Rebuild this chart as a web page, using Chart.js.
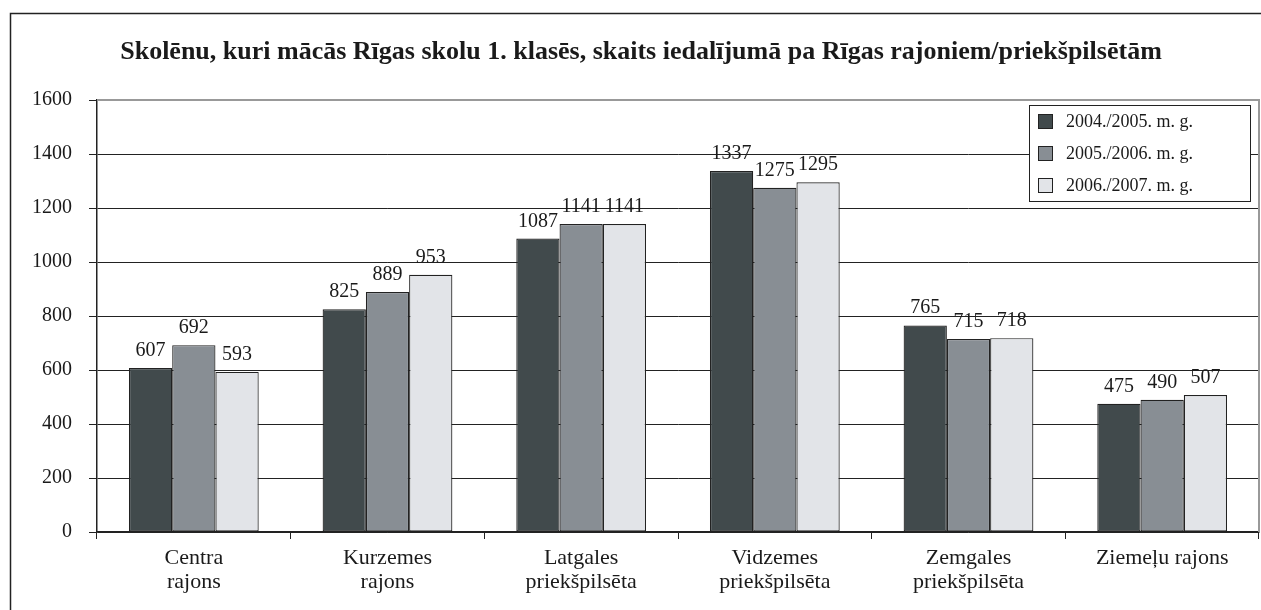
<!DOCTYPE html>
<html>
<head>
<meta charset="utf-8">
<style>
  html, body { margin: 0; padding: 0; background: #fff; }
  #wrap { width: 1261px; height: 610px; }
</style>
</head>
<body>
<div id="wrap"><canvas id="chart" width="1261" height="610"></canvas></div>
<script src="https://cdn.jsdelivr.net/npm/chart.js"></script>
<script>
  const titleText = 'Skolēnu, kuri mācās Rīgas skolu 1. klasēs, skaits iedalījumā pa Rīgas rajoniem/priekšpilsētām';
  const categories = [
    ['Centra', 'rajons'],
    ['Kurzemes', 'rajons'],
    ['Latgales', 'priekšpilsēta'],
    ['Vidzemes', 'priekšpilsēta'],
    ['Zemgales', 'priekšpilsēta'],
    'Ziemeļu rajons'
  ];
  const seriesNames = ['2004./2005. m. g.', '2005./2006. m. g.', '2006./2007. m. g.'];
  const year0405 = [607, 825, 1087, 1337, 765, 475];
  const year0506 = [692, 889, 1141, 1275, 715, 490];
  const year0607 = [593, 953, 1141, 1295, 718, 507];
  const colors = ['#414a4c', '#888e94', '#e2e4e8'];

  const serif = '"Liberation Serif", "DejaVu Serif", serif';

  // frame, title, value labels and the boxed legend
  const decorations = {
    id: 'decorations',
    beforeDraw(chart) {
      const ctx = chart.ctx;
      ctx.save();
      ctx.strokeStyle = '#222';
      ctx.lineWidth = 1.5;
      ctx.beginPath();
      ctx.moveTo(10.5, 610);
      ctx.lineTo(10.5, 13.5);
      ctx.lineTo(1261, 13.5);
      ctx.stroke();
      ctx.fillStyle = '#1a1a1a';
      ctx.font = 'bold 26px ' + serif;
      ctx.textAlign = 'center';
      ctx.textBaseline = 'middle';
      ctx.fillText(titleText, 641, 52);
      ctx.restore();
    },
    afterDatasetsDraw(chart) {
      const ctx = chart.ctx;
      const area = chart.chartArea;
      ctx.save();
      // grey top/right edge of the plot area
      ctx.strokeStyle = '#999';
      ctx.lineWidth = 2;
      ctx.beginPath();
      ctx.moveTo(area.left, area.top);
      ctx.lineTo(area.right, area.top);
      ctx.lineTo(area.right, area.bottom);
      ctx.stroke();

      ctx.fillStyle = '#1a1a1a';
      ctx.font = '20px ' + serif;
      ctx.textAlign = 'center';
      ctx.textBaseline = 'alphabetic';
      chart.data.datasets.forEach((ds, i) => {
        chart.getDatasetMeta(i).data.forEach((bar, j) => {
          ctx.fillText(String(ds.data[j]), bar.x, bar.y - 12);
        });
      });

      // legend
      const lx = 1029, ly = 105, lw = 221, lh = 96;
      ctx.fillStyle = '#fff';
      ctx.fillRect(lx, ly, lw, lh);
      ctx.strokeStyle = '#222';
      ctx.lineWidth = 1;
      ctx.strokeRect(lx + 0.5, ly + 0.5, lw, lh);
      ctx.font = '18px ' + serif;
      ctx.textAlign = 'left';
      ctx.textBaseline = 'middle';
      chart.data.datasets.forEach((ds, i) => {
        const y = ly + 16 + i * 32;
        ctx.fillStyle = ds.backgroundColor;
        ctx.fillRect(lx + 9, y - 7, 14, 14);
        ctx.strokeStyle = '#222';
        ctx.strokeRect(lx + 9.5, y - 6.5, 14, 14);
        ctx.fillStyle = '#1a1a1a';
        ctx.fillText(ds.label, lx + 37, y + 1);
      });
      ctx.restore();
    }
  };

  const datasets = [year0405, year0506, year0607].map((vals, i) => ({
    label: seriesNames[i],
    data: vals,
    backgroundColor: colors[i],
    borderColor: '#222',
    borderWidth: 1.2,
    borderSkipped: false,
    categoryPercentage: 0.67,
    barPercentage: 1.0
  }));

  new Chart(document.getElementById('chart'), {
    type: 'bar',
    data: { labels: categories, datasets: datasets },
    plugins: [decorations],
    options: {
      responsive: false,
      animation: false,
      layout: { padding: { top: 100, right: 2, left: 0, bottom: 0 } },
      plugins: {
        legend: { display: false },
        tooltip: { enabled: false },
        title: { display: false }
      },
      scales: {
        x: {
          afterFit(scale) { scale.height = 78; },
          grid: { drawOnChartArea: false, drawTicks: true, tickLength: 7, color: '#222', offset: true },
          border: { color: '#222', width: 1.5 },
          ticks: { color: '#1a1a1a', font: { family: serif, size: 22, lineHeight: 1.1 }, padding: 7, maxRotation: 0 }
        },
        y: {
          min: 0,
          max: 1600,
          afterFit(scale) { scale.width = 97; },
          grid: { color: '#222', lineWidth: 1, tickLength: 8 },
          border: { color: '#222', width: 1.5 },
          ticks: {
            stepSize: 200,
            color: '#1a1a1a',
            font: { family: serif, size: 20 },
            padding: 17,
            callback: (v) => String(v)
          }
        }
      }
    }
  });
</script>
</body>
</html>
